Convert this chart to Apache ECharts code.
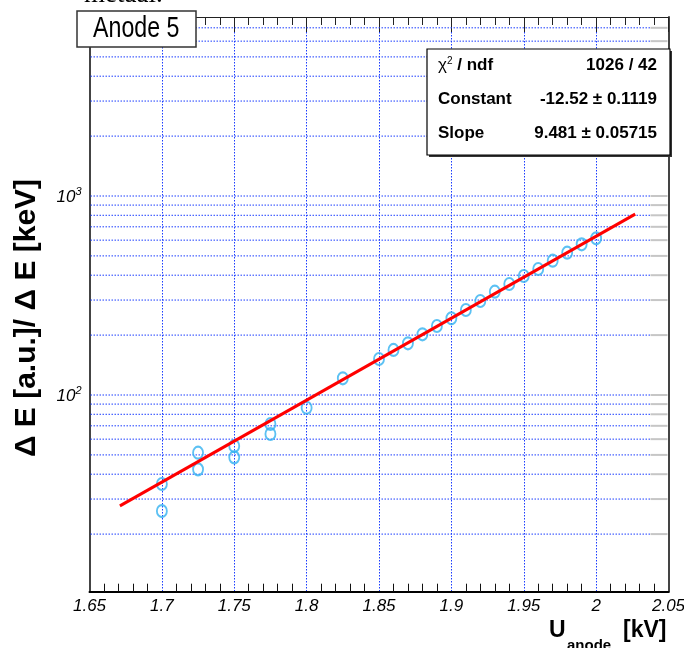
<!DOCTYPE html>
<html>
<head>
<meta charset="utf-8">
<script src="https://cdn.jsdelivr.net/npm/echarts@6/dist/echarts.min.js"></script>
<style>
  html, body { margin: 0; padding: 0; background: #fff; }
  #chart { width: 684px; height: 648px; }
</style>
</head>
<body>
<div id="chart"></div>
<script>
// Anode voltage scan: measured gain ratio per voltage step
const voltages = [1.70, 1.70, 1.725, 1.725, 1.75, 1.75, 1.775, 1.775, 1.80, 1.825,
                  1.85, 1.86, 1.87, 1.88, 1.89, 1.90, 1.91, 1.92, 1.93, 1.94,
                  1.95, 1.96, 1.97, 1.98, 1.99, 2.00];
const ratios = [35.7, 26.1, 51.3, 42.3, 55.4, 48.6, 71.5, 63.7, 86.3, 121.3,
                151.7, 168.4, 181.9, 201.8, 222.2, 242.8, 267.4, 296.7, 330.4, 361.3,
                396.3, 429.8, 473.0, 518.8, 571.6, 612.9];

// Exponential fit: exp(Constant + Slope * U)
const fitConstant = -12.52;
const fitSlope = 9.481;
const fitRange = [1.671, 2.027];

// Axis ranges
const xMin = 1.65, xMax = 2.05, xStep = 0.05;
const yMin = 10.27, yMax = 7934;

// Log-axis grid values (2..9 per decade)
const gridValues = [20, 30, 40, 50, 60, 70, 80, 90, 100,
                    200, 300, 400, 500, 600, 700, 800, 900, 1000,
                    2000, 3000, 4000, 5000, 6000, 7000];

// Fit summary rows
const statLabels = ['chi2', 'Constant', 'Slope'];
const statValues = ['1026 / 42', '-12.52 \u00b1 0.1119', '9.481 \u00b1 0.05715'];

const points = voltages.map((u, i) => [u, ratios[i]]);
const fitLine = fitRange.map(u => [u, Math.exp(fitConstant + fitSlope * u)]);

const gridBlue = '#1a3cff';
const dotted = [1.5, 1.5];

const chart = echarts.init(document.getElementById('chart'), null, { renderer: 'canvas' });

const statY = [73, 107, 141];
const statGraphics = [];
statLabels.forEach((lab, i) => {
  statGraphics.push({
    type: 'text', x: 438, y: statY[i] - 8,
    style: i === 0
      ? { text: '{g|\u03c7}{s|2}{b| / ndf}', rich: {
            g: { font: '17px "Liberation Sans"', fill: '#000' },
            s: { font: '10px "Liberation Sans"', fill: '#000', verticalAlign: 'top' },
            b: { font: 'bold 17px "Liberation Sans"', fill: '#000' } },
          textVerticalAlign: 'middle' }
      : { text: lab, font: 'bold 17px "Liberation Sans"', fill: '#000', textVerticalAlign: 'middle' }
  });
  statGraphics.push({
    type: 'text', x: 657, y: statY[i] - 8,
    style: { text: statValues[i], font: 'bold 17px "Liberation Sans"', fill: '#000',
             textAlign: 'right', textVerticalAlign: 'middle' }
  });
});

const option = {
  animation: false,
  backgroundColor: '#fff',
  grid: { left: 89.5, top: 17, width: 579, height: 574.7, containLabel: false, outerBoundsMode: 'none' },
  xAxis: [{
    type: 'value', min: xMin, max: xMax, interval: xStep, position: 'bottom',
    axisLine: { show: true, lineStyle: { color: '#000', width: 2 } },
    axisTick: { show: false, inside: true },
    minorTick: { show: true, splitNumber: 5, length: 8, lineStyle: { color: '#111', width: 1 } },
    axisLabel: { margin: 6, color: '#000', fontSize: 17, fontStyle: 'italic',
                 fontFamily: 'Liberation Sans', showMinLabel: true, showMaxLabel: true },
    splitLine: { show: true, showMinLine: false, showMaxLine: false,
                 lineStyle: { color: gridBlue, width: 1, type: dotted } }
  }, {
    type: 'value', min: xMin, max: xMax, interval: xStep, position: 'top',
    axisLine: { show: true, lineStyle: { color: '#222', width: 1 } },
    axisTick: { show: true, inside: true, length: 15, lineStyle: { color: '#222', width: 1 } },
    minorTick: { show: true, splitNumber: 5, length: 8, lineStyle: { color: '#222', width: 1 } },
    axisLabel: { show: false },
    splitLine: { show: false }
  }],
  yAxis: [{
    type: 'log', logBase: 10, min: yMin, max: yMax, position: 'left',
    axisLine: { show: true, lineStyle: { color: '#444', width: 2 } },
    axisTick: { show: false },
    splitLine: { show: false },
    axisLabel: {
      margin: 8, color: '#000',
      formatter: function (v) {
        const e = Math.log10(v);
        if (Math.abs(e - Math.round(e)) > 1e-6) return '';
        return '{b|10}{s|' + Math.round(e) + '}';
      },
      rich: {
        b: { fontSize: 17, fontStyle: 'italic', fontFamily: 'Liberation Sans', color: '#000', lineHeight: 20, verticalAlign: 'bottom' },
        s: { fontSize: 11, fontStyle: 'italic', fontFamily: 'Liberation Sans', color: '#000', lineHeight: 20, verticalAlign: 'top' }
      }
    }
  }, {
    type: 'log', logBase: 10, min: yMin, max: yMax, position: 'right',
    axisLine: { show: true, lineStyle: { color: '#444', width: 2 } },
    axisTick: { show: false }, axisLabel: { show: false }, splitLine: { show: false }
  }],
  series: [{
    // horizontal dotted grid on the log axis, with short ticks at the right frame
    type: 'custom', xAxisIndex: 0, yAxisIndex: 0, silent: true, z: 1,
    data: gridValues.map(v => [xMax, v]),
    renderItem: function (params, api) {
      const pr = api.coord([xMax, api.value(1)]);
      const pl = api.coord([xMin, api.value(1)]);
      return {
        type: 'group',
        children: [{
          type: 'line',
          shape: { x1: pl[0] + 1, y1: pr[1], x2: pr[0] - 18, y2: pr[1] },
          style: { stroke: gridBlue, lineWidth: 1, lineDash: dotted }
        }, {
          type: 'line',
          shape: { x1: pr[0] - 18, y1: pr[1], x2: pr[0] - 1, y2: pr[1] },
          style: { stroke: '#c6c6c6', lineWidth: 2 }
        }]
      };
    }
  }, {
    name: 'data', type: 'scatter', xAxisIndex: 0, yAxisIndex: 0, z: 3,
    symbol: 'circle', symbolSize: [10, 12],
    itemStyle: { color: 'rgba(0,0,0,0)', borderColor: '#33b2f0', borderWidth: 2 },
    data: points
  }, {
    name: 'fit', type: 'line', xAxisIndex: 0, yAxisIndex: 0, z: 4,
    showSymbol: false, symbol: 'none',
    lineStyle: { color: '#ff0000', width: 3 },
    data: fitLine
  }],
  graphic: [
    // partial line of surrounding text at the top edge
    { type: 'text', x: 84, y: -19,
      style: { text: 'metaal.', font: '27px "Liberation Serif"', fill: '#000' } },
    // title box
    { type: 'rect', shape: { x: 77, y: 11, width: 119, height: 36 },
      style: { fill: '#fff', stroke: '#333', lineWidth: 1.5 }, z: 10 },
    { type: 'text', x: 93, y: 29, scaleX: 0.8, z: 11,
      style: { text: 'Anode 5', font: '29px "Liberation Sans"', fill: '#000', textVerticalAlign: 'middle' } },
    // fit statistics box
    { type: 'rect', shape: { x: 429, y: 51, width: 243, height: 106 },
      style: { fill: '#333', stroke: null }, z: 10 },
    { type: 'rect', shape: { x: 427, y: 49, width: 243, height: 106 },
      style: { fill: '#fff', stroke: '#000', lineWidth: 1.2 }, z: 10 },
    ...statGraphics.map(g => Object.assign(g, { z: 11 })),
    // axis titles
    { type: 'text', x: 27, y: 318, rotation: Math.PI / 2,
      style: { text: '\u0394 E [a.u.]/ \u0394 E [keV]', font: 'bold 30px "Liberation Sans"', fill: '#000',
               textAlign: 'center', textVerticalAlign: 'middle' } },
    { type: 'text', x: 549, y: 631,
      style: { text: 'U', font: 'bold 23px "Liberation Sans"', fill: '#000', textVerticalAlign: 'middle' } },
    { type: 'text', x: 567, y: 646,
      style: { text: 'anode', font: 'bold 15px "Liberation Sans"', fill: '#000', textVerticalAlign: 'middle' } },
    { type: 'text', x: 623, y: 631,
      style: { text: '[kV]', font: 'bold 23px "Liberation Sans"', fill: '#000', textVerticalAlign: 'middle' } }
  ]
};

chart.setOption(option);
</script>
</body>
</html>
